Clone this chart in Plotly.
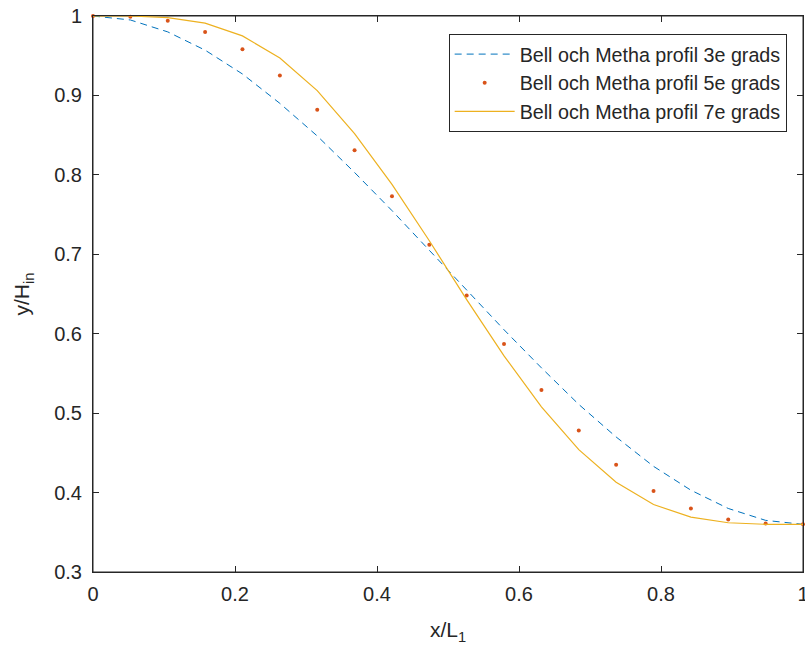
import plotly.graph_objects as go

x_vals = [0.0, 0.0526, 0.1053, 0.1579, 0.2105, 0.2632, 0.3158, 0.3684, 0.4211, 0.4737,
          0.5263, 0.5789, 0.6316, 0.6842, 0.7368, 0.7895, 0.8421, 0.8947, 0.9474, 1.0]
y_deg3 = [1.000, 0.995, 0.980, 0.957, 0.927, 0.890, 0.849, 0.803, 0.755, 0.705,
          0.655, 0.605, 0.557, 0.511, 0.470, 0.433, 0.403, 0.380, 0.365, 0.360]
y_deg5 = [1.000, 0.999, 0.994, 0.980, 0.958, 0.925, 0.882, 0.831, 0.773, 0.712,
          0.648, 0.587, 0.529, 0.478, 0.435, 0.402, 0.380, 0.366, 0.361, 0.360]
y_deg7 = [1.000, 1.000, 0.998, 0.991, 0.975, 0.947, 0.906, 0.852, 0.788, 0.717,
          0.643, 0.572, 0.508, 0.454, 0.413, 0.385, 0.369, 0.362, 0.360, 0.360]
series_names = ["Bell och Metha profil 3e grads",
                "Bell och Metha profil 5e grads",
                "Bell och Metha profil 7e grads"]
x_ticks = [0, 0.2, 0.4, 0.6, 0.8, 1]
y_ticks = [0.3, 0.4, 0.5, 0.6, 0.7, 0.8, 0.9, 1]

FONT = "Liberation Sans, Arial, Helvetica, sans-serif"
AX = "#262626"

fig = go.Figure()
fig.add_trace(go.Scatter(x=x_vals, y=y_deg3, mode="lines", name=series_names[0],
                         line=dict(color="#0072BD", width=1, dash="7px,5px")))
fig.add_trace(go.Scatter(x=x_vals, y=y_deg5, mode="markers", name=series_names[1],
                         marker=dict(color="#D95319", size=4), cliponaxis=False))
fig.add_trace(go.Scatter(x=x_vals, y=y_deg7, mode="lines", name=series_names[2],
                         line=dict(color="#EDB120", width=1.2)))

axis_common = dict(showline=True, linecolor=AX, linewidth=1, mirror="ticks",
                   ticks="inside", ticklen=6, tickcolor=AX, showgrid=False,
                   zeroline=False, automargin=False, ticklabeloverflow="allow",
                   tickfont=dict(family=FONT, size=20, color=AX))

fig.update_layout(
    width=805, height=650,
    margin=dict(l=93, r=2, t=16, b=78, autoexpand=False),
    paper_bgcolor="white", plot_bgcolor="white",
    font=dict(family=FONT, color=AX),
    xaxis=dict(range=[0, 1], tickvals=x_ticks, ticktext=[str(v) for v in x_ticks],
               ticklabelstandoff=4,
               title=dict(text="x/L<sub>1</sub>", font=dict(size=21, color=AX), standoff=18),
               **axis_common),
    yaxis=dict(range=[0.3, 1], tickvals=y_ticks, ticktext=[str(v) for v in y_ticks],
               ticklabelstandoff=6,
               title=dict(text="y/H<sub>in</sub>", font=dict(size=21, color=AX), standoff=18),
               **axis_common),
    legend=dict(x=0.977, xanchor="right", y=0.968, yanchor="top",
                bordercolor=AX, borderwidth=1, bgcolor="white",
                font=dict(family=FONT, size=19.7, color=AX), itemwidth=60,
                tracegroupgap=0),
    showlegend=True,
    shapes=[dict(type="rect", xref="paper", yref="paper", x0=0, y0=0, x1=1, y1=1,
                 line=dict(color=AX, width=1), layer="below")],
)

fig.write_html("out.html", config={"displayModeBar": False},
               post_script="document.body.style.margin='0';document.body.style.overflow='hidden';")
